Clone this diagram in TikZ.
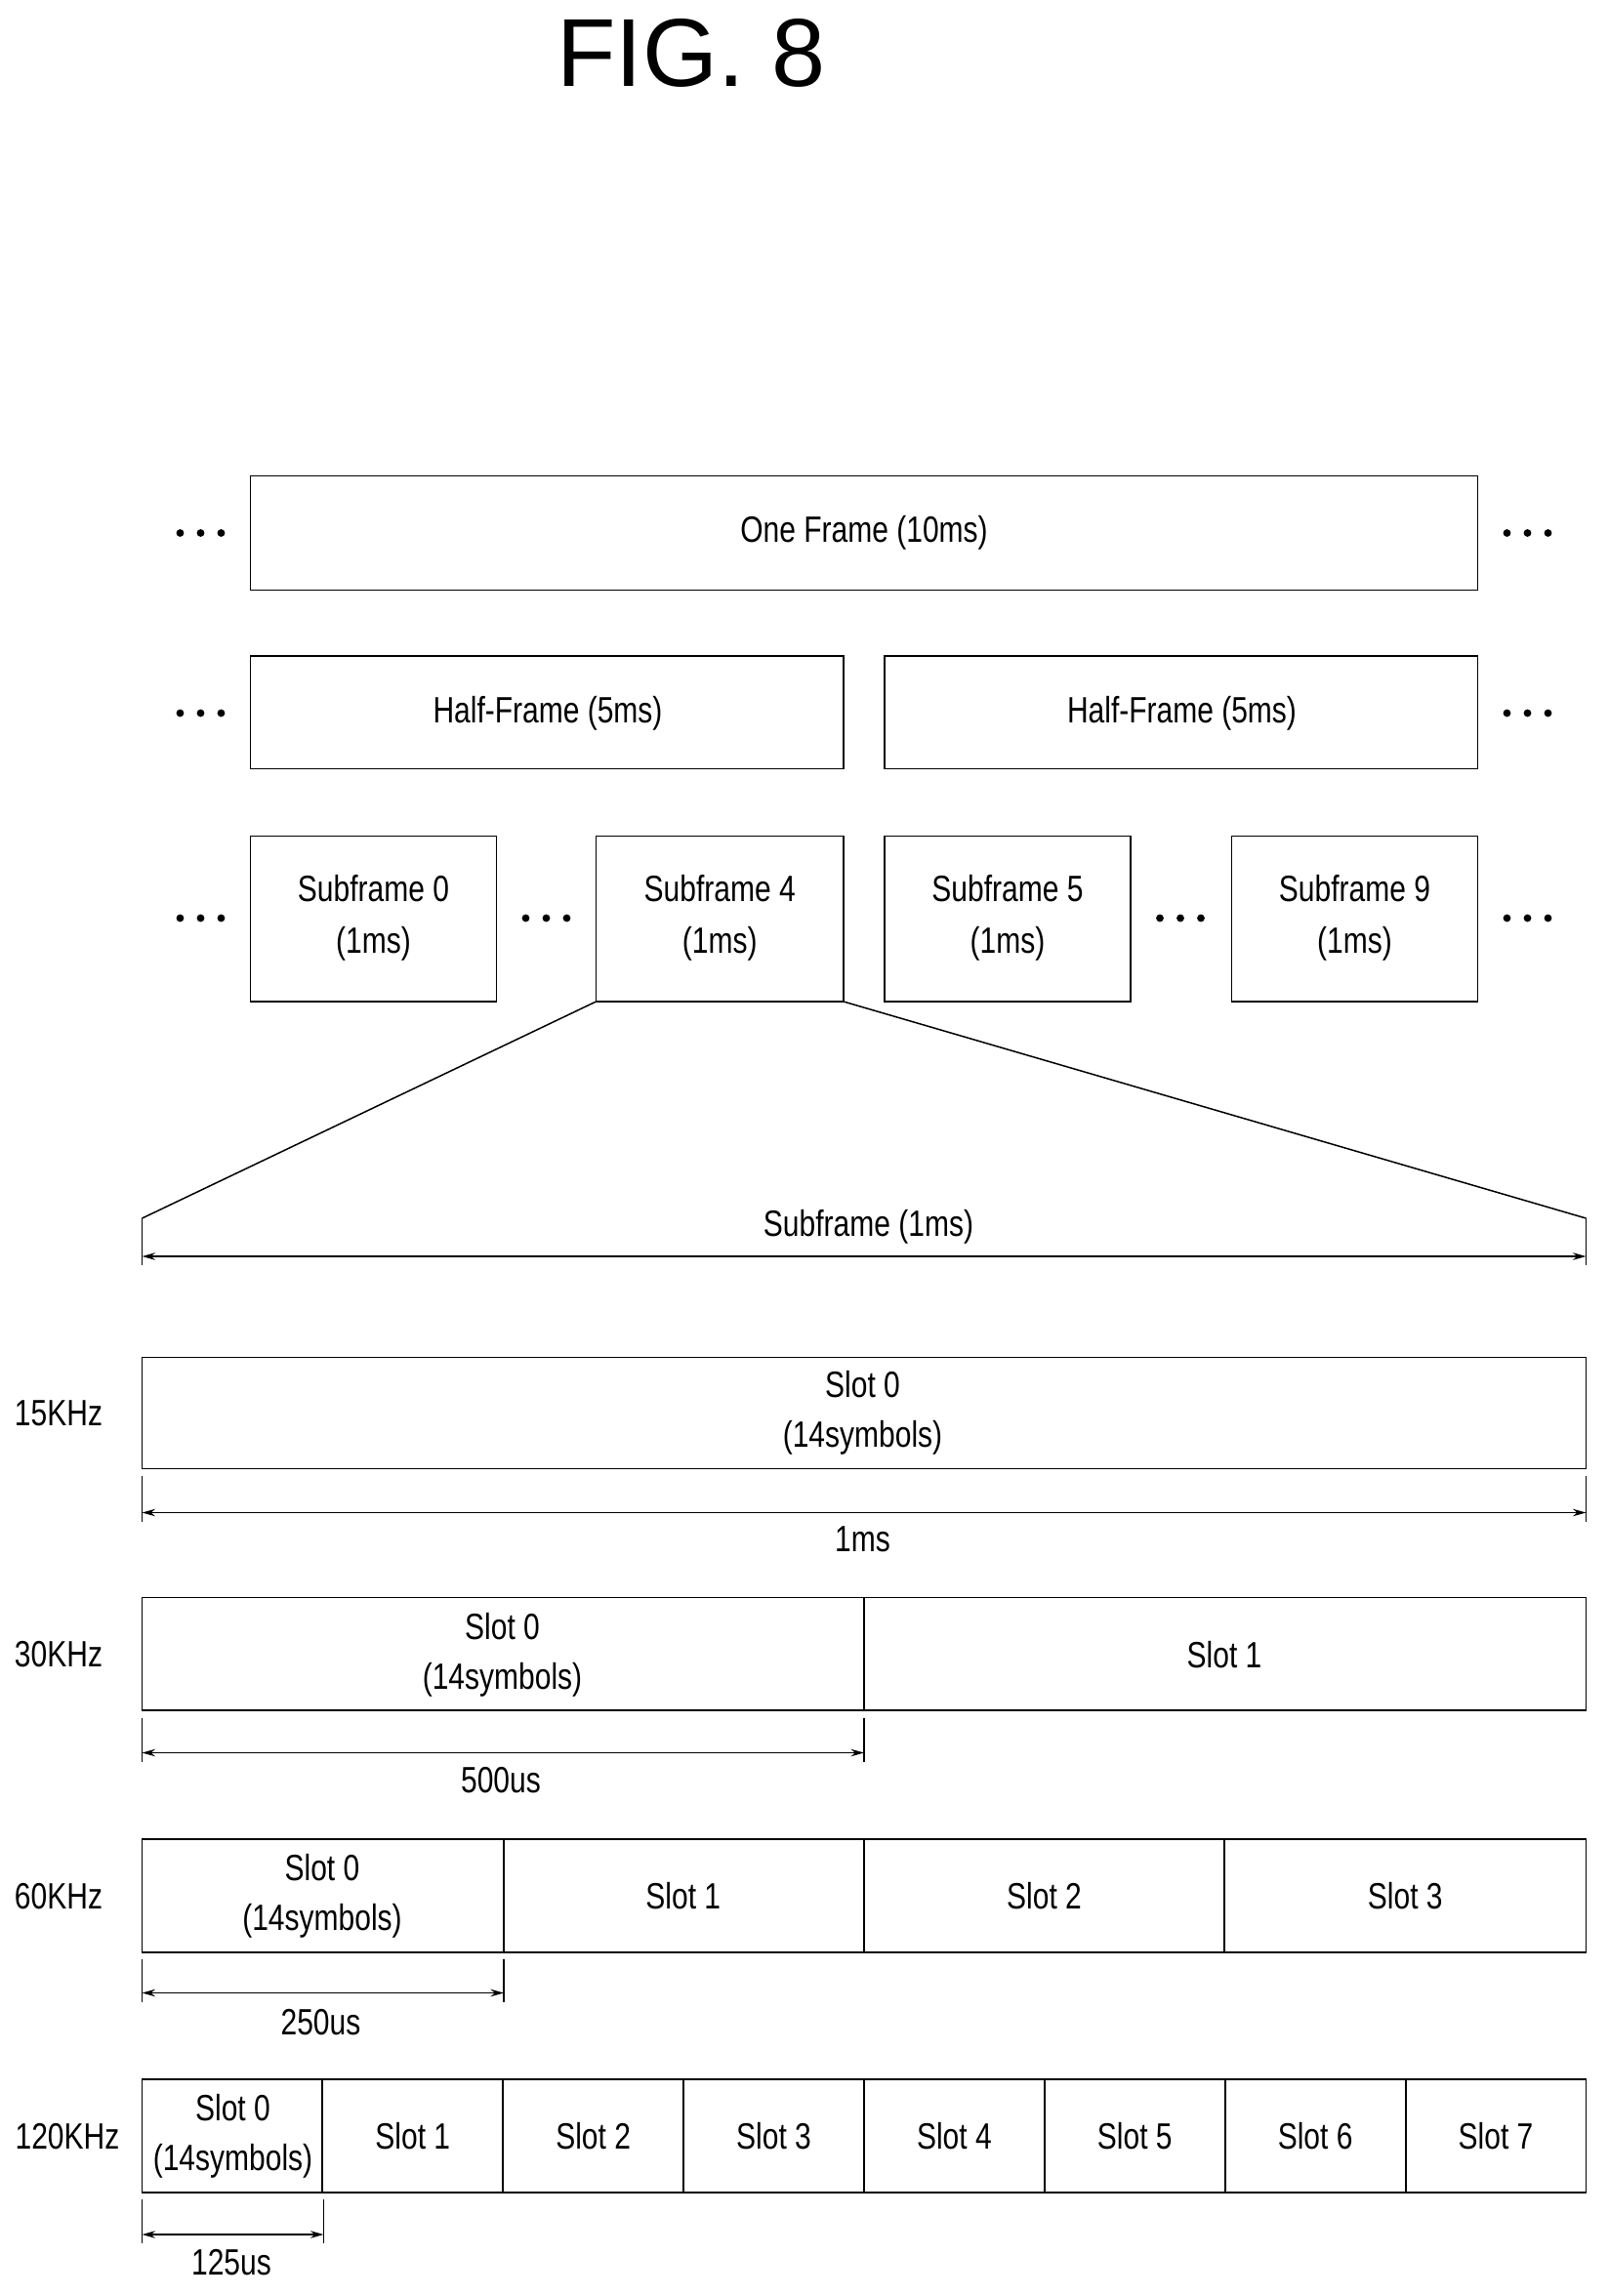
\documentclass[tikz,border=0pt]{standalone}
\usepackage{fontspec}
\setmainfont{Liberation Sans}[FakeStretch=0.8]
\newfontfamily\titlefont{Liberation Sans}
\usetikzlibrary{arrows.meta}
\begin{document}
\begin{tikzpicture}[x=1pt,y=-1pt,
 bx/.style={draw,line width=1.3pt},
 t/.style={font=\fontsize{25}{29}\selectfont,align=center,inner sep=0},
 dim/.style={line width=1pt,{Stealth[length=9pt,width=5pt]}-{Stealth[length=9pt,width=5pt]}},
 tick/.style={line width=0.8pt}]
\useasboundingbox (0,0) rectangle (1098,1568);
\newcommand\dts[2]{\foreach \d in {-14,0,14}{\fill (#1+\d,#2) circle (2.6);}}
\node[font=\titlefont\fontsize{66}{74}\selectfont,inner sep=0] (title) at (472,36) {FIG. 8};
% frame
\draw[bx] (171,325) rectangle (1009,403);
\node[t] (fr) at (590,364) {One Frame (10ms)};
\dts{137}{364}\dts{1043}{364}
\draw[bx] (171,448) rectangle (576,525);
\draw[bx] (604,448) rectangle (1009,525);
\node[t] (h1) at (374,487) {Half-Frame (5ms)};
\node[t] (h2) at (807,487) {Half-Frame (5ms)};
\dts{137}{487}\dts{1043}{487}
\foreach \a/\b/\n in {171/339/0,407/576/4,604/772/5,841/1009/9}{
 \draw[bx] (\a,571) rectangle (\b,684);
 \node[t] (sf\n) at ({(\a+\b)/2},627) {Subframe \n\\[6pt](1ms)};}
\dts{137}{627}\dts{373}{627}\dts{806}{627}\dts{1043}{627}
\coordinate (z1) at (407,684); \coordinate (z2) at (576,684);
\coordinate (e1) at (97,832); \coordinate (e2) at (1083,832);
\draw[line width=1pt] (z1)--(e1) (z2)--(e2);
\draw[tick] (97,832)--(97,864) (1083,832)--(1083,864);
\draw[dim] (97,858)--(1083,858);
\node[t] (sfl) at (593,838) {Subframe (1ms)};
% 15
\node[t] (k15) at (40,965) {15KHz};
\draw[bx] (97,927) rectangle (1083,1003);
\node[t] (s150) at (589,965) {Slot 0\\[5pt](14symbols)};
\draw[tick] (97,1008)--(97,1039) (1083,1008)--(1083,1039);
\draw[dim] (97,1033)--(1083,1033);
\node[t] at (589,1051) {1ms};
% 30
\node[t] (k30) at (40,1130) {30KHz};
\draw[bx] (97,1091) rectangle (1083,1168); \draw[bx] (590,1091)--(590,1168);
\node[t] at (343,1130) {Slot 0\\[5pt](14symbols)};
\node[t] at (836,1130) {Slot 1};
\draw[tick] (97,1173)--(97,1203) (590,1173)--(590,1203);
\draw[dim] (97,1197)--(590,1197);
\node[t] at (342,1216) {500us};
% 60
\node[t] (k60) at (40,1295) {60KHz};
\draw[bx] (97,1256) rectangle (1083,1333);
\foreach \x in {344,590,836}{\draw[bx] (\x,1256)--(\x,1333);}
\node[t] at (220,1295) {Slot 0\\[5pt](14symbols)};
\foreach \i in {1,2,3}{\node[t] at ({97+246.5*\i+123},1295) {Slot \i};}
\draw[tick] (97,1338)--(97,1367) (344,1338)--(344,1367);
\draw[dim] (97,1361)--(344,1361);
\node[t] at (219,1381) {250us};
% 120
\node[t] (k120) at (46,1459) {120KHz};
\draw[bx] (97,1420) rectangle (1083,1497);
\foreach \i in {1,...,7}{\draw[bx] ({97+123.25*\i},1420)--({97+123.25*\i},1497);}
\node[t] at (159,1459) {Slot 0\\[5pt](14symbols)};
\foreach \i in {1,...,7}{\node[t] at ({97+123.25*\i+61.6},1459) {Slot \i};}
\draw[tick] (97,1502)--(97,1532) (221,1502)--(221,1532);
\draw[dim] (97,1526)--(221,1526);
\node[t] at (158,1545) {125us};
\end{tikzpicture}
\end{document}
